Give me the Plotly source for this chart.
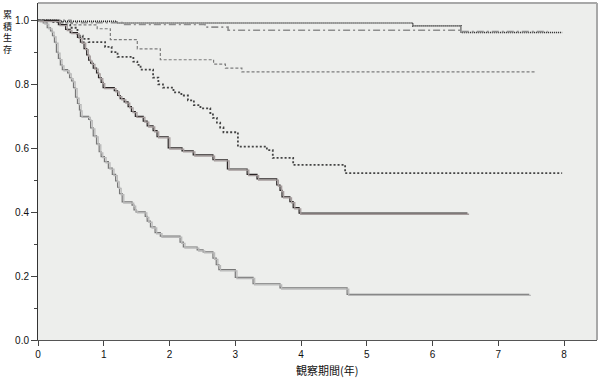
import plotly.graph_objects as go

# ---- data (years, cumulative survival) ----
top_t = [0, 0.3, 1.2, 5.7, 6.43, 7.97]
top_s = [1.0, 0.997, 0.992, 0.983, 0.962, 0.962]

dd_t = [0, 0.5, 1.3, 2.54, 2.89, 6.43, 7.75]
dd_s = [1.0, 0.993, 0.987, 0.979, 0.969, 0.965, 0.965]

dash_t = [0, 0.37, 0.52, 0.9, 1.1, 1.51, 1.86, 2.67, 2.85, 3.1, 7.58]
dash_s = [1.0, 0.992, 0.986, 0.974, 0.94, 0.911, 0.877, 0.863, 0.851, 0.839, 0.839]

dot_t = [0, 0.19, 0.34, 0.49, 0.6, 0.68, 0.77, 1.02, 1.12, 1.21, 1.45, 1.51, 1.56,
         1.75, 1.83, 1.9, 2.06, 2.18, 2.28, 2.37, 2.47, 2.62, 2.66, 2.72, 2.77, 2.82,
         3.04, 3.48, 3.57, 3.88, 4.67, 7.97]
dot_s = [1.0, 0.995, 0.986, 0.977, 0.952, 0.942, 0.932, 0.917, 0.901, 0.886, 0.871,
         0.861, 0.846, 0.821, 0.800, 0.790, 0.775, 0.765, 0.750, 0.735, 0.725, 0.710,
         0.695, 0.680, 0.665, 0.650, 0.605, 0.594, 0.570, 0.548, 0.522, 0.522]

sol_t = [0, 0.31, 0.42, 0.49, 0.6, 0.645, 0.7, 0.74, 0.77, 0.8, 0.84, 0.89, 0.92,
         0.96, 0.99, 1.16, 1.21, 1.25, 1.31, 1.37, 1.42, 1.48, 1.6, 1.66, 1.75, 1.81,
         1.98, 2.19, 2.36, 2.66, 2.88, 3.18, 3.33, 3.63, 3.68, 3.71, 3.83, 3.88, 3.97,
         6.53]
sol_s = [1.0, 0.987, 0.972, 0.962, 0.947, 0.932, 0.912, 0.892, 0.876, 0.866, 0.851,
         0.836, 0.821, 0.806, 0.790, 0.780, 0.765, 0.755, 0.745, 0.730, 0.715, 0.700,
         0.685, 0.670, 0.655, 0.636, 0.601, 0.592, 0.579, 0.564, 0.535, 0.518, 0.504,
         0.485, 0.468, 0.448, 0.433, 0.414, 0.397, 0.397]

low_t = [0, 0.08, 0.14, 0.19, 0.22, 0.25, 0.28, 0.31, 0.34, 0.37, 0.45, 0.48, 0.51,
         0.54, 0.57, 0.6, 0.63, 0.645, 0.77, 0.8, 0.84, 0.89, 0.93, 0.96, 1.01, 1.07,
         1.13, 1.18, 1.21, 1.24, 1.28, 1.43, 1.46, 1.49, 1.63, 1.66, 1.71, 1.78, 1.86,
         2.16, 2.21, 2.42, 2.51, 2.66, 2.71, 2.75, 3.0, 3.27, 3.68, 4.7, 7.47]
low_s = [1.0, 0.992, 0.977, 0.967, 0.952, 0.932, 0.901, 0.881, 0.861, 0.846, 0.836,
         0.821, 0.811, 0.790, 0.760, 0.740, 0.720, 0.700, 0.690, 0.664, 0.639, 0.614,
         0.589, 0.574, 0.558, 0.538, 0.518, 0.498, 0.478, 0.458, 0.432, 0.422, 0.407,
         0.401, 0.387, 0.372, 0.354, 0.336, 0.325, 0.306, 0.291, 0.282, 0.276, 0.256,
         0.236, 0.220, 0.196, 0.176, 0.163, 0.143, 0.143]

y_ticks = [0.0, 0.2, 0.4, 0.6, 0.8, 1.0]
y_tick_text = ["0.0", "0.2", "0.4", "0.6", "0.8", "1.0"]
x_ticks = [0, 1, 2, 3, 4, 5, 6, 7, 8]

fig = go.Figure()

def step(t, s, color, width, dash="solid", shadow=False):
    kw = dict(xaxis="x2", yaxis="y2") if shadow else {}
    fig.add_trace(go.Scatter(x=t, y=s, mode="lines", line_shape="hv",
                             line=dict(color=color, width=width, dash=dash),
                             hoverinfo="skip", showlegend=False, **kw))

# shadows (light copies, slightly offset through a second overlay axis)
step(low_t, low_s, "#b9b9b9", 1.3, shadow=True)
step(sol_t, sol_s, "#a59c9c", 1.3, shadow=True)

step(top_t, top_s, "#1a1a1a", 1.6, "1px,1px")
step(dd_t, dd_s, "#8e8e8e", 1.6, "7px,3px,2px,3px")
step(dash_t, dash_s, "#7c7c7c", 1.2, "3px,2px")
step(dot_t, dot_s, "#444444", 1.8, "2px,2px")
step(sol_t, sol_s, "#2b2626", 1.2)
step(low_t, low_s, "#777777", 1.2)

tickfont = dict(family="Liberation Sans, Arial", size=10, color="#111111")

fig.update_layout(
    width=600, height=380,
    margin=dict(l=38, r=3, t=3, b=40),
    paper_bgcolor="white",
    plot_bgcolor="#EDEEEC",
    xaxis=dict(range=[0, 8.5], tickvals=x_ticks, ticks="outside", ticklen=5,
               tickcolor="#444444", showline=True, linecolor="#555555", linewidth=1,
               showgrid=False, zeroline=False, tickfont=tickfont, automargin=False),
    yaxis=dict(range=[0, 1.0545], tickvals=y_ticks, ticktext=y_tick_text,
               ticks="outside", ticklen=6, tickcolor="#444444", showline=True,
               linecolor="#333333", linewidth=1, showgrid=False, zeroline=False,
               tickfont=tickfont, automargin=False,
               minor=dict(tickvals=[0.1, 0.3, 0.5, 0.7, 0.9], ticks="outside",
                          ticklen=3, tickcolor="#444444")),
    xaxis2=dict(range=[-0.025, 8.475], overlaying="x", visible=False),
    yaxis2=dict(range=[0.0035, 1.058], overlaying="y", visible=False),
)

# top and right frame lines
fig.add_shape(type="line", xref="paper", yref="paper", x0=0, x1=1, y0=1, y1=1,
              line=dict(color="#a8a8a8", width=2))
fig.add_shape(type="line", xref="paper", yref="paper", x0=1, x1=1, y0=0, y1=1,
              line=dict(color="#a8a8a8", width=2))

# axis titles
fig.add_annotation(x=4.4, xref="x", y=0, yref="paper", yshift=-30, yanchor="middle",
                   text="観察期間(年)", showarrow=False,
                   font=dict(family="Noto Sans CJK JP", size=11, color="#111111"))
fig.add_annotation(x=0, xref="paper", xshift=-30.5, y=1, yref="paper",
                   yshift=-3, yanchor="top", xanchor="center",
                   text="<br>".join("累積生存"), showarrow=False,
                   font=dict(family="Noto Sans CJK JP", size=9, color="#111111"))

fig.write_html("out.html", config={"displayModeBar": False},
               post_script="document.body.style.margin='0';document.body.style.padding='0';")
